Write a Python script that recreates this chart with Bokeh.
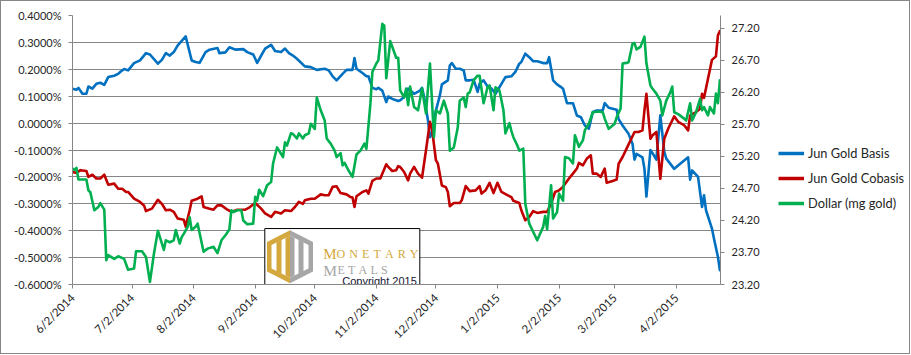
import math
from datetime import datetime, timedelta
import pandas as pd
from bokeh.plotting import figure
from bokeh.layouts import row
from bokeh.models import (Range1d, LinearAxis, FixedTicker, PrintfTickFormatter,
                          Legend, LegendItem)
from bokeh.embed import file_html
from bokeh.resources import INLINE
from bokeh.core.properties import value

FONT = "Lato"
TXT = "#262626"
GRID = "#868686"

# ---------------- data ----------------
x_tick_dates = ["2014-06-02", "2014-07-02", "2014-08-02", "2014-09-02", "2014-10-02", "2014-11-02",
                "2014-12-02", "2015-01-02", "2015-02-02", "2015-03-02", "2015-04-02"]
x_tick_labels = ["6/2/2014", "7/2/2014", "8/2/2014", "9/2/2014", "10/2/2014", "11/2/2014",
                 "12/2/2014", "1/2/2015", "2/2/2015", "3/2/2015", "4/2/2015"]
left_ticks = [-0.6, -0.5, -0.4, -0.3, -0.2, -0.1, 0.0, 0.1, 0.2, 0.3, 0.4]
right_ticks = [23.2, 23.7, 24.2, 24.7, 25.2, 25.7, 26.2, 26.7, 27.2]

basis_dates = ["2014-06-02","2014-06-04","2014-06-05","2014-06-07","2014-06-09","2014-06-10","2014-06-12","2014-06-14",
"2014-06-16","2014-06-18","2014-06-20","2014-06-23","2014-06-25","2014-06-26","2014-06-28","2014-06-30","2014-07-03",
"2014-07-06","2014-07-09","2014-07-11","2014-07-15","2014-07-17","2014-07-19","2014-07-21","2014-07-23","2014-07-25",
"2014-07-27","2014-07-29","2014-08-01","2014-08-03","2014-08-05","2014-08-08","2014-08-10","2014-08-14","2014-08-15",
"2014-08-18","2014-08-20","2014-08-23","2014-08-27","2014-08-29","2014-09-01","2014-09-03","2014-09-05","2014-09-07",
"2014-09-10","2014-09-12","2014-09-15","2014-09-17","2014-09-19","2014-09-21","2014-09-23","2014-09-27","2014-09-30",
"2014-10-03","2014-10-07","2014-10-09","2014-10-11","2014-10-13","2014-10-16","2014-10-18","2014-10-21","2014-10-22",
"2014-10-23","2014-10-26","2014-10-28","2014-10-29","2014-10-31","2014-11-02","2014-11-03","2014-11-05","2014-11-07",
"2014-11-08","2014-11-10","2014-11-13","2014-11-14","2014-11-16","2014-11-18","2014-11-20","2014-11-21","2014-11-24",
"2014-11-25","2014-11-26","2014-11-28","2014-11-29","2014-11-30","2014-12-02","2014-12-04","2014-12-05","2014-12-08",
"2014-12-09","2014-12-10","2014-12-12","2014-12-14","2014-12-16","2014-12-17","2014-12-19","2014-12-21","2014-12-23",
"2014-12-24","2014-12-26","2014-12-28","2014-12-30","2015-01-01","2015-01-04","2015-01-06","2015-01-09","2015-01-11",
"2015-01-13","2015-01-14","2015-01-16","2015-01-18","2015-01-20","2015-01-22","2015-01-25","2015-01-27","2015-01-28",
"2015-01-30","2015-02-01","2015-02-03","2015-02-04","2015-02-06","2015-02-09","2015-02-11","2015-02-13","2015-02-15",
"2015-02-17","2015-02-19","2015-02-21","2015-02-24","2015-02-25","2015-02-27","2015-03-03","2015-03-04","2015-03-06",
"2015-03-09","2015-03-11","2015-03-12","2015-03-13","2015-03-16","2015-03-17","2015-03-18","2015-03-20","2015-03-21",
"2015-03-23","2015-03-25","2015-03-27","2015-03-28","2015-04-01","2015-04-04","2015-04-08","2015-04-09","2015-04-10",
"2015-04-13","2015-04-15","2015-04-16","2015-04-17","2015-04-20","2015-04-21","2015-04-23","2015-04-24"]
basis_vals = [0.128,0.124,0.131,0.109,0.109,0.136,0.128,0.146,
0.150,0.142,0.171,0.176,0.183,0.190,0.201,0.196,0.223,
0.233,0.260,0.255,0.221,0.235,0.260,0.251,0.264,0.289,
0.306,0.322,0.233,0.227,0.224,0.264,0.273,0.279,0.260,
0.263,0.282,0.273,0.275,0.264,0.255,0.224,0.251,0.277,
0.291,0.268,0.264,0.277,0.260,0.251,0.239,0.211,0.208,
0.198,0.202,0.196,0.174,0.159,0.183,0.198,0.198,0.242,
0.202,0.186,0.174,0.174,0.131,0.126,0.131,0.121,0.078,
0.099,0.090,0.082,0.085,0.097,0.128,0.116,0.109,0.121,
0.131,0.099,0.010,-0.052,-0.037,0.047,0.103,0.144,0.159,
0.214,0.223,0.202,0.202,0.196,0.159,0.159,0.161,0.116,
0.147,0.159,0.136,0.128,0.109,0.146,0.171,0.174,0.190,
0.221,0.227,0.258,0.245,0.230,0.230,0.223,0.223,0.245,
0.159,0.144,0.134,0.128,0.074,0.074,0.028,0.022,-0.009,
-0.021,0.041,0.047,0.047,0.074,0.057,0.050,0.015,-0.009,
-0.040,-0.077,-0.136,-0.114,-0.127,-0.170,-0.273,-0.100,-0.111,
-0.136,0.029,-0.107,-0.132,-0.170,-0.151,-0.127,-0.210,-0.176,
-0.200,-0.312,-0.268,-0.324,-0.392,-0.429,-0.497,-0.547]

cobasis_dates = ["2014-06-02","2014-06-04","2014-06-06","2014-06-09","2014-06-10","2014-06-12","2014-06-14","2014-06-16",
"2014-06-18","2014-06-20","2014-06-23","2014-06-25","2014-06-27","2014-06-29","2014-06-30","2014-07-03","2014-07-06",
"2014-07-08","2014-07-09","2014-07-12","2014-07-15","2014-07-17","2014-07-19","2014-07-21","2014-07-23","2014-07-25",
"2014-07-28","2014-07-29","2014-07-31","2014-08-01","2014-08-04","2014-08-06","2014-08-07","2014-08-10","2014-08-12",
"2014-08-14","2014-08-16","2014-08-19","2014-08-21","2014-08-24","2014-08-28","2014-08-30","2014-09-02","2014-09-05",
"2014-09-07","2014-09-10","2014-09-12","2014-09-15","2014-09-17","2014-09-20","2014-09-22","2014-09-24","2014-09-26",
"2014-09-27","2014-09-30","2014-10-02","2014-10-05","2014-10-07","2014-10-09","2014-10-11","2014-10-13","2014-10-15",
"2014-10-18","2014-10-20","2014-10-21","2014-10-22","2014-10-23","2014-10-26","2014-10-28","2014-10-29","2014-10-31",
"2014-11-02","2014-11-04","2014-11-07","2014-11-08","2014-11-10","2014-11-12","2014-11-13","2014-11-14","2014-11-16",
"2014-11-18","2014-11-19","2014-11-21","2014-11-23","2014-11-25","2014-11-27","2014-11-29","2014-11-30","2014-12-02",
"2014-12-03","2014-12-05","2014-12-07","2014-12-08","2014-12-09","2014-12-11","2014-12-14","2014-12-15","2014-12-17",
"2014-12-19","2014-12-22","2014-12-24","2014-12-25","2014-12-27","2014-12-29","2014-12-31","2015-01-02","2015-01-04",
"2015-01-07","2015-01-09","2015-01-10","2015-01-13","2015-01-14","2015-01-16","2015-01-18","2015-01-20","2015-01-22",
"2015-01-25","2015-01-27","2015-01-29","2015-01-31","2015-02-02","2015-02-04","2015-02-07","2015-02-09","2015-02-11",
"2015-02-12","2015-02-14","2015-02-16","2015-02-18","2015-02-19","2015-02-21","2015-02-23","2015-02-25","2015-02-26",
"2015-03-01","2015-03-03","2015-03-04","2015-03-06","2015-03-08","2015-03-10","2015-03-12","2015-03-14","2015-03-16",
"2015-03-17","2015-03-18","2015-03-20","2015-03-21","2015-03-23","2015-03-25","2015-03-27","2015-03-29","2015-04-01",
"2015-04-03","2015-04-06","2015-04-08","2015-04-09","2015-04-12","2015-04-14","2015-04-15","2015-04-16","2015-04-18",
"2015-04-20","2015-04-22","2015-04-23","2015-04-24"]
cobasis_vals = [-0.182,-0.185,-0.175,-0.178,-0.200,-0.192,-0.206,-0.206,
-0.192,-0.229,-0.225,-0.244,-0.244,-0.256,-0.256,-0.281,-0.293,
-0.306,-0.327,-0.318,-0.285,-0.300,-0.324,-0.322,-0.330,-0.355,
-0.359,-0.385,-0.324,-0.289,-0.281,-0.272,-0.312,-0.318,-0.322,
-0.306,-0.306,-0.322,-0.330,-0.322,-0.322,-0.314,-0.297,-0.318,
-0.336,-0.349,-0.330,-0.336,-0.324,-0.327,-0.312,-0.293,-0.300,
-0.287,-0.281,-0.281,-0.265,-0.268,-0.268,-0.237,-0.235,-0.260,
-0.265,-0.275,-0.277,-0.312,-0.272,-0.256,-0.250,-0.262,-0.215,
-0.206,-0.206,-0.153,-0.163,-0.178,-0.175,-0.160,-0.163,-0.182,
-0.213,-0.188,-0.163,-0.188,-0.203,-0.101,0.005,-0.020,-0.138,
-0.151,-0.232,-0.238,-0.256,-0.309,-0.297,-0.297,-0.287,-0.234,
-0.253,-0.250,-0.234,-0.262,-0.250,-0.222,-0.260,-0.222,-0.256,
-0.268,-0.275,-0.289,-0.297,-0.324,-0.361,-0.349,-0.327,-0.334,
-0.330,-0.330,-0.299,-0.256,-0.250,-0.237,-0.206,-0.188,-0.169,
-0.148,-0.157,-0.132,-0.120,-0.188,-0.188,-0.200,-0.169,-0.222,
-0.215,-0.210,-0.151,-0.126,-0.095,-0.064,-0.033,-0.033,-0.027,
0.047,0.109,-0.058,-0.046,-0.033,-0.207,-0.058,-0.020,0.025,
0.005,-0.008,-0.027,0.029,0.041,0.053,0.109,0.094,0.165,
0.235,0.248,0.326,0.342]

dollar_dates = ["2014-06-02","2014-06-03","2014-06-04","2014-06-05","2014-06-09","2014-06-10","2014-06-11","2014-06-13",
"2014-06-15","2014-06-16","2014-06-18","2014-06-19","2014-06-20","2014-06-23","2014-06-25","2014-06-28","2014-06-30",
"2014-07-03","2014-07-04","2014-07-07","2014-07-09","2014-07-11","2014-07-13","2014-07-15","2014-07-18","2014-07-19",
"2014-07-21","2014-07-23","2014-07-24","2014-07-26","2014-07-27","2014-07-28","2014-07-30","2014-07-31","2014-08-01",
"2014-08-03","2014-08-04","2014-08-07","2014-08-09","2014-08-12","2014-08-14","2014-08-16","2014-08-18","2014-08-20",
"2014-08-21","2014-08-22","2014-08-24","2014-08-26","2014-08-27","2014-08-29","2014-09-01","2014-09-02","2014-09-03",
"2014-09-04","2014-09-06","2014-09-08","2014-09-10","2014-09-11","2014-09-13","2014-09-16","2014-09-17","2014-09-18",
"2014-09-20","2014-09-21","2014-09-23","2014-09-24","2014-09-26","2014-09-27","2014-09-29","2014-09-30","2014-10-02",
"2014-10-03","2014-10-05","2014-10-07","2014-10-08","2014-10-10","2014-10-12","2014-10-13","2014-10-15","2014-10-16",
"2014-10-17","2014-10-19","2014-10-21","2014-10-23","2014-10-25","2014-10-27","2014-10-28","2014-10-30","2014-10-31",
"2014-11-02","2014-11-03","2014-11-05","2014-11-06","2014-11-07","2014-11-09","2014-11-12","2014-11-13","2014-11-14",
"2014-11-16","2014-11-17","2014-11-18","2014-11-19","2014-11-21","2014-11-23","2014-11-25","2014-11-27","2014-11-29",
"2014-12-01","2014-12-02","2014-12-04","2014-12-06","2014-12-08","2014-12-09","2014-12-11","2014-12-13","2014-12-14",
"2014-12-16","2014-12-17","2014-12-18","2014-12-19","2014-12-21","2014-12-23","2014-12-24","2014-12-26","2014-12-28",
"2014-12-29","2014-12-31","2015-01-01","2015-01-03","2015-01-05","2015-01-06","2015-01-08","2015-01-09","2015-01-10",
"2015-01-12","2015-01-13","2015-01-15","2015-01-16","2015-01-18","2015-01-20","2015-01-22","2015-01-25","2015-01-26",
"2015-01-27","2015-01-29","2015-01-30","2015-02-01","2015-02-02","2015-02-04","2015-02-05","2015-02-07","2015-02-09",
"2015-02-10","2015-02-12","2015-02-14","2015-02-15","2015-02-17","2015-02-19","2015-02-22","2015-02-24","2015-02-25",
"2015-02-27","2015-03-02","2015-03-03","2015-03-05","2015-03-06","2015-03-08","2015-03-09","2015-03-11","2015-03-12",
"2015-03-13","2015-03-15","2015-03-17","2015-03-18","2015-03-20","2015-03-21","2015-03-23","2015-03-25","2015-03-26",
"2015-03-28","2015-03-30","2015-03-31","2015-04-01","2015-04-03","2015-04-06","2015-04-07","2015-04-09","2015-04-10",
"2015-04-12","2015-04-14","2015-04-15","2015-04-16","2015-04-18","2015-04-19","2015-04-21","2015-04-22","2015-04-23",
"2015-04-24"]
dollar_vals = [25.01,24.99,25.02,24.84,24.84,24.67,24.64,24.36,
24.41,24.47,24.37,23.58,23.66,23.60,23.64,23.60,23.43,
23.45,23.72,23.72,23.63,23.24,23.68,24.04,23.74,23.89,
23.86,23.89,24.05,23.84,23.94,23.99,24.10,24.25,24.05,
24.10,24.15,23.71,23.76,23.79,23.69,23.89,23.97,24.06,
24.36,24.33,24.36,24.36,24.20,24.14,24.15,24.57,24.51,
24.68,24.58,24.75,24.80,25.09,25.34,25.19,25.42,25.37,
25.56,25.55,25.48,25.56,25.48,25.53,25.56,25.71,25.63,
26.12,25.92,25.76,25.48,25.40,25.29,25.19,25.25,25.06,
25.10,24.98,24.88,25.23,25.29,25.40,25.32,26.02,26.52,
26.65,26.70,27.27,27.24,26.42,27.00,26.74,26.74,26.23,
26.12,26.26,26.00,26.29,25.97,25.92,26.26,25.87,26.65,
25.50,25.92,25.87,26.07,25.87,25.29,25.34,25.65,26.07,
26.12,25.97,26.18,26.20,26.39,26.46,26.46,26.03,26.28,
26.31,25.92,26.28,26.23,25.92,25.56,25.72,25.60,25.50,
25.37,25.29,25.32,24.46,24.15,24.02,23.89,24.10,24.27,
24.06,24.75,24.23,24.33,24.62,24.51,25.19,25.17,25.09,
25.53,25.35,25.45,25.61,25.71,25.89,25.90,25.89,25.79,
25.63,25.71,25.81,25.95,26.65,26.66,26.67,26.96,26.97,
26.87,26.91,27.07,26.65,26.31,26.26,26.18,26.07,25.84,
26.07,26.20,26.29,25.89,25.86,25.79,25.76,26.03,25.76,
25.89,26.10,25.92,25.97,25.84,25.97,25.87,26.18,26.03,
26.39]

series_names = ["Jun Gold Basis", "Jun Gold Cobasis", "Dollar (mg gold)"]
series_colors = ["#0070C0", "#C00000", "#00B050"]

# ---------------- main figure ----------------
x_start = datetime(2014, 6, 2)
x_end = x_start + timedelta(days=326.3)

p = figure(width=770, height=352, x_axis_type="datetime",
           x_range=Range1d(x_start, x_end), y_range=Range1d(-0.6, 0.4),
           output_backend="svg", toolbar_location=None, title=None,
           min_border_left=71, min_border_right=51, min_border_top=14, min_border_bottom=69)
p.outline_line_color = None
p.background_fill_color = "white"
p.border_fill_color = "white"

p.extra_y_ranges = {"dollar": Range1d(23.2, 27.4), "py": Range1d(284.3, 15.0)}
p.extra_x_ranges = {"px": Range1d(72.0, 720.0)}

p.xgrid.visible = False
p.ygrid.ticker = FixedTicker(ticks=left_ticks)
p.ygrid.grid_line_color = GRID
p.ygrid.grid_line_width = 1

ya = p.yaxis[0]
ya.ticker = FixedTicker(ticks=left_ticks)
ya.formatter = PrintfTickFormatter(format="%.4f%%")

ra = LinearAxis(y_range_name="dollar", ticker=FixedTicker(ticks=right_ticks),
                formatter=PrintfTickFormatter(format="%.2f"))
p.add_layout(ra, "right")

xa = p.xaxis[0]
tick_ms = [int(pd.Timestamp(d).value // 10**6) for d in x_tick_dates]
xa.ticker = FixedTicker(ticks=tick_ms)
xa.major_label_overrides = {t: lab for t, lab in zip(tick_ms, x_tick_labels)}
xa.major_label_orientation = math.pi / 4

for ax in [ya, ra, xa]:
    ax.axis_line_color = GRID
    ax.major_tick_line_color = GRID
    ax.major_tick_out = 4
    ax.major_tick_in = 0
    ax.minor_tick_line_color = None
    ax.major_label_text_font = FONT
    ax.major_label_text_font_size = "11px"
    ax.major_label_text_color = TXT
    ax.major_label_standoff = 7
xa.major_label_text_font_size = "11.5px"

series = [(basis_dates, basis_vals, "default"),
          (cobasis_dates, cobasis_vals, "default"),
          (dollar_dates, dollar_vals, "dollar")]
for (dates, vals, yr), color in zip(series, series_colors):
    kw = {} if yr == "default" else {"y_range_name": yr}
    p.line(pd.to_datetime(dates), vals, line_color=color, line_width=2.6,
           line_join="round", line_cap="round", **kw)

# ---------------- watermark (screen-pixel coordinates) ----------------
pk = dict(x_range_name="px", y_range_name="py")
p.quad(left=264.3, right=419.3, top=228.3, bottom=284.3, fill_color="white",
       line_color="black", line_width=1, **pk)

GOLD = "#D4A83C"
GRAY = "#A6A6A6"
cx = 289.5
gold_outer = ([cx, 266.5, 266.5, cx], [230.0, 241.8, 271.2, 283.0])
gold_inner = ([cx, 271.0, 271.0, cx], [235.5, 244.8, 268.2, 277.5])
gold_bar1 = ([276.0, 281.0, 281.0, 276.0], [242.0, 239.5, 273.7, 271.2])
gold_bar2 = ([285.0, cx, cx, 285.0], [237.8, 235.5, 277.5, 275.2])

def mirror(poly):
    xs, ys = poly
    return ([2 * cx - x for x in xs], ys)

for poly, col in [(gold_outer, GOLD), (gold_inner, "white"), (gold_bar1, GOLD), (gold_bar2, GOLD),
                  (mirror(gold_outer), GRAY), (mirror(gold_inner), "white"),
                  (mirror(gold_bar1), GRAY), (mirror(gold_bar2), GRAY)]:
    p.patch(poly[0], poly[1], fill_color=col, line_color=None, **pk)

SERIF = "Liberation Serif"
p.text(x=[322.7], y=[254.0], text=["M"], text_font=value(SERIF), text_font_size="15px",
       text_color=GOLD, text_baseline="alphabetic", text_align="left", **pk)
mon_letters = list("ONETARY")
mon_x = [336.0, 348.8, 361.6, 373.0, 384.4, 397.2, 409.3]
p.text(x=mon_x, y=[254.0] * len(mon_x), text=mon_letters, text_font=value(SERIF),
       text_font_size="12px", text_color=GOLD, text_baseline="alphabetic", text_align="left", **pk)
p.text(x=[322.7], y=[270.0], text=["M"], text_font=value(SERIF), text_font_size="15.5px",
       text_color=GRAY, text_baseline="alphabetic", text_align="left", **pk)
met_letters = list("ETALS")
met_x = [337.0, 347.6, 358.1, 370.0, 380.6]
p.text(x=met_x, y=[270.0] * len(met_x), text=met_letters, text_font=value(SERIF),
       text_font_size="12px", text_color=GRAY, text_baseline="alphabetic", text_align="left", **pk)
p.text(x=[341.7], y=[280.5], text=["Copyright 2015"], text_font=value("Liberation Sans"),
       text_font_size="11px", text_color="#141432", text_baseline="alphabetic", text_align="left", **pk)

# ---------------- legend panel ----------------
lg = figure(width=138, height=352, x_range=Range1d(0, 1), y_range=Range1d(0, 1),
            x_axis_location=None, y_axis_location=None,
            output_backend="svg", toolbar_location=None, title=None,
            min_border_left=0, min_border_right=0, min_border_top=0, min_border_bottom=0)
lg.grid.visible = False
lg.outline_line_color = None
lg.background_fill_color = "white"
lg.border_fill_color = "white"
nan = float("nan")
keys = [lg.line([nan], [nan], line_color=c, line_width=3.5) for c in series_colors]
legend = Legend(items=[LegendItem(label=n, renderers=[r]) for n, r in zip(series_names, keys)],
                location=(7, 71), orientation="vertical",
                border_line_color=None, background_fill_alpha=0,
                label_text_font=FONT, label_text_font_size="12.8px", label_text_color=TXT,
                glyph_width=26, glyph_height=20, label_height=20, spacing=5,
                padding=0, margin=0, label_standoff=4)
lg.add_layout(legend)

layout = row(p, lg, styles={"border": "1px solid #868686"})
open("out.html", "w").write(file_html(layout, INLINE))
